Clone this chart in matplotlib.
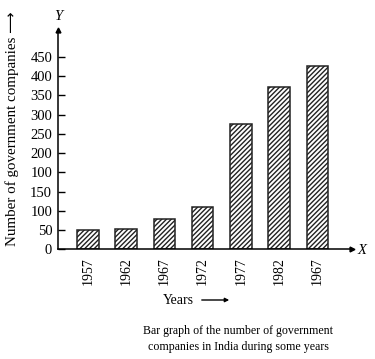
import matplotlib
matplotlib.use('Agg')
import matplotlib.pyplot as plt

# data (heights on the axis' linear scale)
years = ['1957', '1962', '1967', '1972', '1977', '1982', '1967']
counts = [50, 52, 78, 109, 325, 423, 477]
ytick_pos = [0, 50, 100, 150, 200, 250, 300, 350, 400, 450, 500]
ytick_labels = ['0', '50', '100', '150', '100', '200', '250', '300', '350', '400', '450']

plt.rcParams['font.family'] = ['Liberation Serif', 'DejaVu Sans']
plt.rcParams['hatch.linewidth'] = 1.0

fig = plt.figure(figsize=(3.75, 3.59), dpi=100)
ax = fig.add_axes([0.154, 0.3056, 0.784, 0.6108])

x = list(range(len(years)))
ax.bar(x, counts, width=0.56, color='white', edgecolor='#222222',
       linewidth=1.1, hatch='///////')

ax.set_xlim(-0.79, 6.9)
ax.set_ylim(0, 570)

ax.set_yticks(ytick_pos)
ax.set_yticklabels(ytick_labels, fontsize=10.5)
ax.set_xticks(x)
ax.set_xticklabels(years, rotation=90, fontsize=10)
ax.tick_params(axis='y', direction='in', length=5, width=1, pad=4)
ax.tick_params(axis='x', length=0, pad=6)

for s in ['top', 'right']:
    ax.spines[s].set_visible(False)
for s in ['left', 'bottom']:
    ax.spines[s].set_linewidth(1.1)

# arrow heads on the axes
ax.plot(1, 0, '>k', markersize=3.5, transform=ax.transAxes, clip_on=False)
ax.plot(0, 1, '^k', markersize=3.5, transform=ax.transAxes, clip_on=False)

fig.text(58 / 375, 1 - 16 / 359, 'Y', fontsize=10.5, style='italic',
         ha='center', va='center')
fig.text(362 / 375, 1 - 250 / 359, 'X', fontsize=10.5, style='italic',
         ha='center', va='center')

fig.text(12 / 375, 1 - 129 / 359, 'Number of government companies \u27f6',
         rotation=90, fontsize=10.8, ha='center', va='center')

fig.text(163 / 375, 1 - 300 / 359, 'Years', fontsize=10,
         ha='left', va='center')
fig.add_artist(plt.matplotlib.patches.FancyArrowPatch(
    (199 / 375, 1 - 300 / 359), (232 / 375, 1 - 300 / 359),
    transform=fig.transFigure, arrowstyle='-|>', mutation_scale=6,
    linewidth=1.0, color='black'))

fig.text(238 / 375, 1 - 339 / 359,
         'Bar graph of the number of government\ncompanies in India during some years',
         fontsize=8.6, ha='center', va='center', multialignment='center',
         linespacing=1.55)

fig.savefig('out.png', dpi=100)
